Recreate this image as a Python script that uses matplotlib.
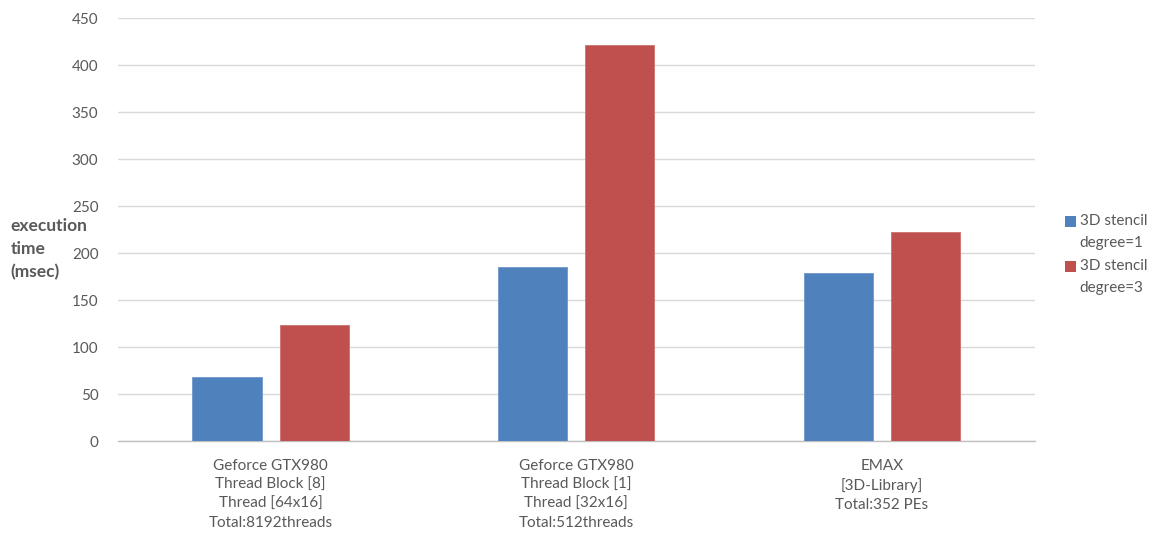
import numpy as np
import matplotlib.pyplot as plt
from matplotlib.patches import Patch, Rectangle
from matplotlib.legend_handler import HandlerPatch

plt.rcParams['font.family'] = ['Lato', 'DejaVu Sans']

categories = [
    'Geforce GTX980\nThread Block [8]\nThread [64x16]\nTotal:8192threads',
    'Geforce GTX980\nThread Block [1]\nThread [32x16]\nTotal:512threads',
    'EMAX\n[3D-Library]\nTotal:352 PEs',
]
series_names = ['3D stencil\ndegree=1', '3D stencil\ndegree=3']
degree1 = [68.5, 185, 178.5]
degree3 = [123.5, 422, 222]
ylabel_lines = ['execution', 'time', '(msec)']
colors = ['#4F81BD', '#C0504D']
text_color = '#595959'
grid_color = '#D9D9D9'


def first_line_square(legend, orig_handle, xdescent, ydescent, width, height, fontsize):
    # put the swatch next to the first line of a two-line label
    return Rectangle((-xdescent, -ydescent + 0.72 * fontsize), width, height)


fig = plt.figure(figsize=(11.56, 5.36), dpi=100)
ax = fig.add_axes([0.102, 0.177, 0.793, 0.789])

x = np.arange(len(categories))
width = 0.226
offset = 0.143
ax.bar(x - offset, degree1, width, color=colors[0], edgecolor='#6D97C9', linewidth=0.6, zorder=3)
ax.bar(x + offset, degree3, width, color=colors[1], edgecolor='#CD716E', linewidth=0.6, zorder=3)

ax.set_xlim(-0.5, len(categories) - 0.5)
ax.set_ylim(0, 450)
ax.set_yticks(np.arange(0, 451, 50))
ax.yaxis.grid(True, color=grid_color, linewidth=1)
ax.set_axisbelow(True)

for side in ['top', 'right', 'left']:
    ax.spines[side].set_visible(False)
ax.spines['bottom'].set_color('#BFBFBF')
ax.spines['bottom'].set_linewidth(1)

ax.set_xticks(x)
ax.set_xticklabels(categories, linespacing=1.45)
ax.tick_params(axis='both', length=0, labelsize=11, colors=text_color)
ax.tick_params(axis='y', pad=14)
ax.tick_params(axis='x', pad=13)

# axis title sits left of the tick labels, one text per line
for i, line in enumerate(ylabel_lines):
    fig.text(0.009, 0.578 - i * 0.043, line, ha='left', va='center',
             fontsize=12.5, fontweight='bold', color=text_color)

handles = [Patch(facecolor=c, edgecolor='none') for c in colors]
leg = fig.legend(handles, series_names, loc='center left', bbox_to_anchor=(0.909, 0.525),
                 frameon=False, fontsize=11, labelcolor=text_color,
                 handlelength=0.75, handleheight=0.75, handletextpad=0.25,
                 labelspacing=0.55,
                 handler_map={Patch: HandlerPatch(patch_func=first_line_square)})
for t in leg.get_texts():
    t.set_linespacing(1.75)

fig.savefig('out.png', dpi=100)
